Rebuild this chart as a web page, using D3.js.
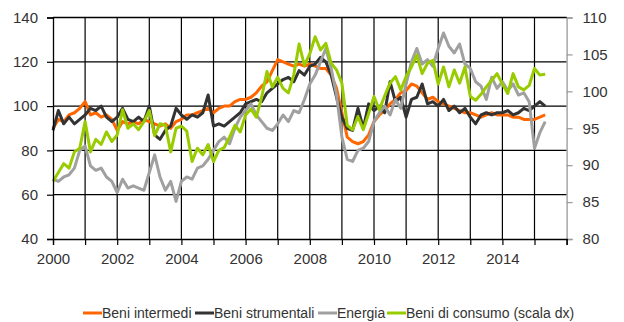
<!DOCTYPE html>
<html>
<head>
<meta charset="utf-8">
<script src="https://cdn.jsdelivr.net/npm/d3@7"></script>
<style>
  html, body { margin: 0; padding: 0; background: #fff; }
  svg { display: block; }
  text { font-family: "Liberation Sans", Arial, sans-serif; fill: #333; }
</style>
</head>
<body>
<svg id="chart" width="624" height="322"></svg>
<script>
// Indici della produzione industriale per raggruppamento (bimestrale, da gen 2000)
const startYear = 2000;
const periodsPerYear = 6;

const beniIntermedi = [
  90, 94, 93, 96, 97, 99, 102, 96, 97, 95, 96, 94,
  89, 93, 92, 93, 92, 94, 93, 92, 91, 92, 90, 93,
  94, 96, 96, 97, 98, 99, 97, 99, 100, 100, 102, 103,
  103, 104, 106, 109, 111, 116, 121, 120, 119, 118, 119, 118,
  119, 118, 117, 117, 114, 108, 97, 86, 84, 83, 84, 87,
  93, 96, 98, 101, 103, 106, 107, 110, 109, 106, 103, 104,
  102, 101, 100, 99, 98, 97, 97, 96, 95, 96, 97, 96,
  96, 96, 95, 95, 94, 94, 94, 95, 96
];

const beniStrumentali = [
  89, 98, 92, 95, 92, 94, 96, 99, 98, 100, 95, 93,
  95, 99, 94, 93, 95, 93, 100, 87, 85, 89, 91, 99,
  96, 94, 96, 95, 97, 105, 91, 92, 91, 93, 95, 97,
  101, 102, 103, 102, 106, 108, 110, 112, 113, 111, 116, 114,
  118, 119, 122, 120, 114, 104, 95, 90, 89, 99, 90, 101,
  98, 100, 97, 111, 102, 104, 95, 103, 104, 110, 101, 102,
  100, 103, 98, 100, 97, 99, 95, 92, 96, 97, 96, 97,
  97, 98, 96, 97, 99, 98, 100, 102, 100
];

const energia = [
  67, 66, 68, 69, 72, 80, 82, 73, 71, 72, 68, 66,
  61, 67, 63, 64, 63, 62, 70, 78, 68, 62, 66, 57,
  66, 68, 67, 72, 73, 76, 80, 84, 86, 83, 90, 95,
  98, 101, 96, 93, 90, 89, 92, 96, 93, 98, 97, 103,
  110, 114, 120, 126, 117, 105, 86, 76, 75, 80, 81, 84,
  93, 97, 100, 96, 103, 99, 110, 120, 126, 119, 121, 118,
  126, 133, 127, 124, 128, 119, 117, 111, 109, 103, 113, 108,
  111, 107, 110, 105, 106, 102, 81, 88, 93
];

// scala destra
const beniConsumo = [
  87.8, 89.0, 90.2, 89.6, 91.8, 92.3, 95.9, 91.8, 93.5, 92.8, 94.5, 93.2,
  94.1, 97.5, 95.0, 95.6, 94.8, 95.9, 97.4, 94.0, 95.6, 95.4, 91.8, 95.0,
  95.3, 94.6, 90.5, 92.3, 91.4, 92.8, 90.5, 92.0, 92.4, 93.8, 95.4, 94.5,
  96.8, 97.6, 96.5, 99.2, 102.7, 100.6, 101.9, 100.4, 99.8, 102.2, 106.4, 103.5,
  105.1, 107.4, 105.6, 106.5, 103.8, 102.9, 101.1, 95.4, 94.8, 96.6, 94.8, 97.0,
  99.3, 97.5, 99.4, 101.1, 102.0, 100.2, 102.0, 103.3, 104.9, 102.4, 103.8, 104.2,
  101.0, 103.3, 100.6, 102.9, 101.1, 103.3, 99.3, 98.8, 99.6, 100.6, 101.5, 102.4,
  101.0, 99.7, 102.4, 100.6, 100.2, 100.8, 103.1, 102.2, 102.3
];

const leftTicks = [40, 60, 80, 100, 120, 140];
const rightTicks = [80, 85, 90, 95, 100, 105, 110];
const yearTicks = [2000, 2001, 2002, 2003, 2004, 2005, 2006, 2007, 2008,
                   2009, 2010, 2011, 2012, 2013, 2014, 2015, 2016];
const yearLabels = [2000, 2002, 2004, 2006, 2008, 2010, 2012, 2014];

const seriesNames = ["Beni intermedi", "Beni strumentali", "Energia", "Beni di consumo (scala dx)"];
const seriesColors = ["#ff6600", "#333333", "#a0a0a0", "#99cc00"];

const svg = d3.select("#chart");
const plotLeft = 53, plotRight = 566.6, plotTop = 17.5, plotBottom = 239;

const x = d3.scaleLinear().domain([2000, 2016]).range([plotLeft, plotRight]);
const yL = d3.scaleLinear().domain([40, 140]).range([plotBottom, plotTop]);
const yR = d3.scaleLinear().domain([80, 110]).range([plotBottom, plotTop]);

// griglia
const grid = svg.append("g");
grid.selectAll("line.v").data(yearTicks.slice(1, -1)).join("line")
  .attr("x1", d => x(d)).attr("x2", d => x(d))
  .attr("y1", plotTop).attr("y2", plotBottom)
  .attr("stroke", "#000").attr("stroke-width", 1.2);
grid.selectAll("line.h").data(leftTicks.slice(1)).join("line")
  .attr("x1", plotLeft).attr("x2", plotRight)
  .attr("y1", d => yL(d)).attr("y2", d => yL(d))
  .attr("stroke", "#000").attr("stroke-width", 1.2);

// serie
const timeOf = i => startYear + i / periodsPerYear;
const lineL = d3.line().x((d, i) => x(timeOf(i))).y(d => yL(d));
const lineR = d3.line().x((d, i) => x(timeOf(i))).y(d => yR(d));
const data = [
  { v: beniIntermedi, gen: lineL },
  { v: beniStrumentali, gen: lineL },
  { v: energia, gen: lineL },
  { v: beniConsumo, gen: lineR }
];
svg.append("g").selectAll("path").data(data).join("path")
  .attr("d", d => d.gen(d.v))
  .attr("fill", "none")
  .attr("stroke", (d, i) => seriesColors[i])
  .attr("stroke-width", 3)
  .attr("stroke-linejoin", "round");

// assi
const axL = svg.append("g").attr("transform", `translate(${plotLeft},0)`)
  .call(d3.axisLeft(yL).tickValues(leftTicks).tickSize(6).tickPadding(9));
axL.select(".domain").attr("stroke", "#000").attr("stroke-width", 1.3);
axL.selectAll(".tick line").attr("stroke", "#000").attr("stroke-width", 1.2);
axL.selectAll("text").style("font-size", "15px").attr("fill", "#333")
  .style("font-family", "'Liberation Sans', Arial, sans-serif");

const axR = svg.append("g").attr("transform", `translate(${plotRight},0)`)
  .call(d3.axisRight(yR).tickValues(rightTicks).tickSize(6).tickPadding(10));
axR.select(".domain").attr("stroke", "#999").attr("stroke-width", 1.3);
axR.selectAll(".tick line").attr("stroke", "#999").attr("stroke-width", 1.2);
axR.selectAll("text").style("font-size", "15px").attr("fill", "#333")
  .style("font-family", "'Liberation Sans', Arial, sans-serif");

const axB = svg.append("g").attr("transform", `translate(0,${plotBottom})`)
  .call(d3.axisBottom(x).tickValues(yearTicks).tickSize(6).tickPadding(8)
    .tickFormat(d => yearLabels.includes(d) ? String(d) : ""));
axB.select(".domain").attr("stroke", "#000").attr("stroke-width", 1.3);
axB.selectAll(".tick line").attr("stroke", "#000").attr("stroke-width", 1.2);
axB.selectAll("text").style("font-size", "15px").attr("fill", "#333")
  .style("font-family", "'Liberation Sans', Arial, sans-serif");

// bordo superiore
svg.append("line").attr("x1", plotLeft).attr("x2", plotRight)
  .attr("y1", plotTop).attr("y2", plotTop).attr("stroke", "#000").attr("stroke-width", 1.3);

// legenda: ogni voce ha la sua posizione orizzontale
const legendX = [83, 195, 318, 387];
const legend = svg.append("g").attr("transform", "translate(0,313)");
seriesNames.forEach((name, i) => {
  legend.append("line").attr("x1", legendX[i]).attr("x2", legendX[i] + 19)
    .attr("y1", 0).attr("y2", 0)
    .attr("stroke", seriesColors[i]).attr("stroke-width", 3);
  legend.append("text").attr("x", legendX[i] + 19).attr("y", 5)
    .style("font-size", "14px").text(name);
});
</script>
</body>
</html>
